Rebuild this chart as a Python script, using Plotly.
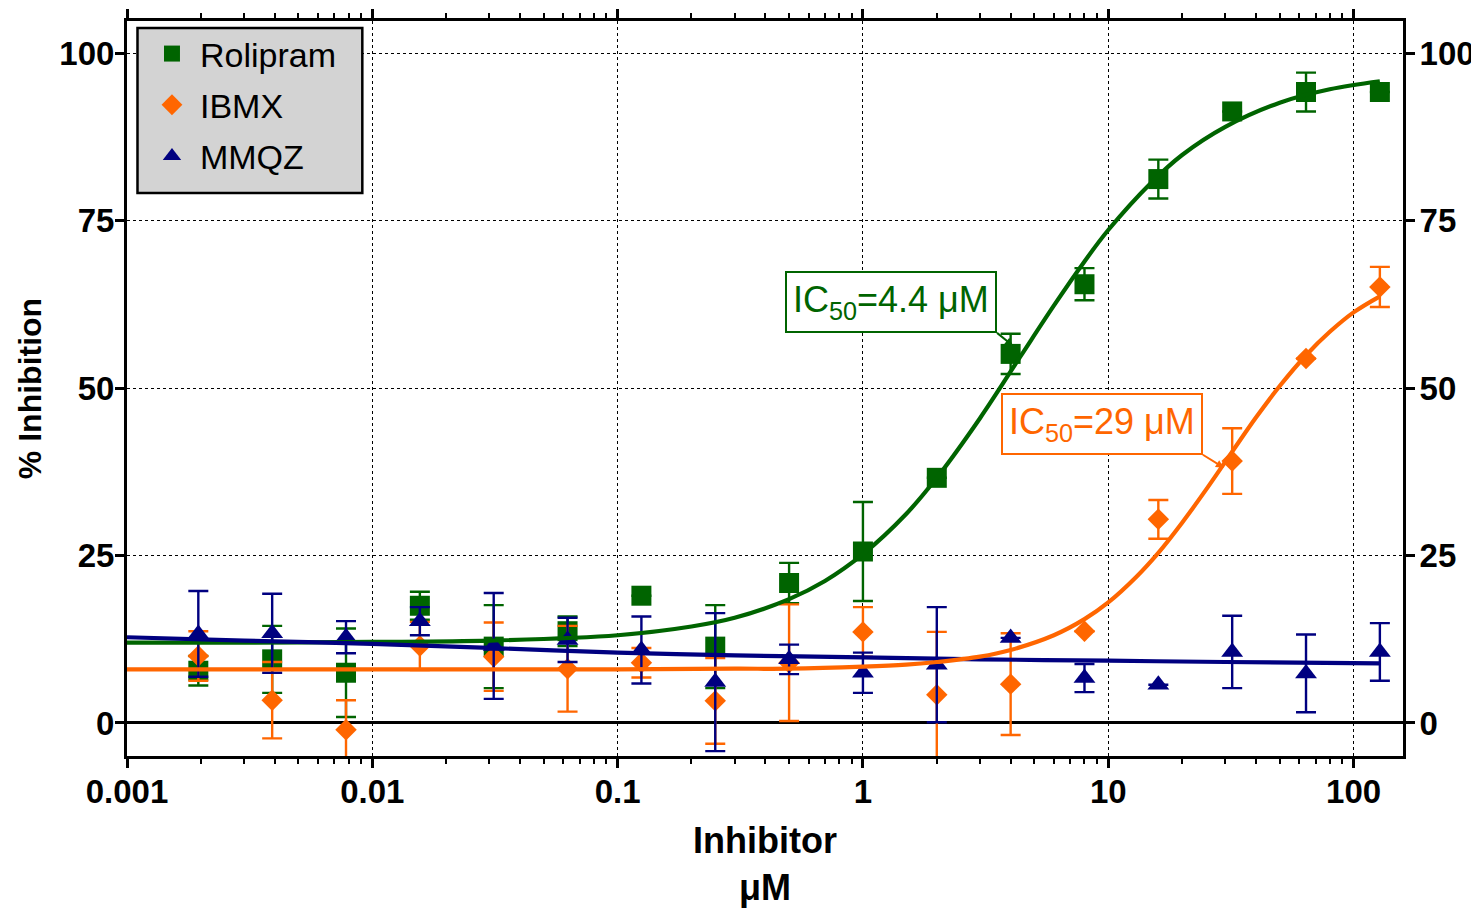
import math
import plotly.graph_objects as go

# ---------------- data ----------------
conc = [0.001953125, 0.00390625, 0.0078125, 0.015625, 0.03125, 0.0625, 0.125,
        0.25, 0.5, 1, 2, 4, 8, 16, 32, 64, 128]

rolipram_mean = [7.8, 9.5, 7.5, 17.5, 11.4, 13.7, 19.0, 11.4, 20.9, 25.6, 36.6,
                 55.1, 65.5, 81.2, 91.3, 94.2, 94.2]
rolipram_err = [2.2, 5.0, 6.6, 2.1, 6.2, 2.2, None, 6.2, 3.0, 7.4, None,
                3.0, 2.4, 2.9, None, 2.9, None]

ibmx_mean = [10.0, 3.4, -1.0, 11.5, 9.9, 8.1, 9.0, 3.3, 9.0, 13.6, 4.2,
             5.8, 13.7, 30.4, 39.1, 54.4, 65.1]
ibmx_err = [3.7, 5.7, 4.4, 3.6, 5.1, 6.4, 2.2, 6.4, 8.7, 3.7, 9.4,
            7.6, None, 2.9, 4.9, None, 3.0]

mmqz_mean = [13.3, 13.4, 12.8, 15.2, 11.5, 12.4, 10.9, 6.1, 9.5, 7.5, 8.7,
             12.7, 6.7, 5.7, 10.6, 7.4, 10.6]
mmqz_err = [6.4, 5.9, 2.4, 2.1, 7.9, 3.3, 5.0, 10.3, 2.2, 3.0, 8.6,
            None, 2.1, None, 5.4, 5.8, 4.3]

# fitted curves
rol_curve_x = [0.001, 0.003, 0.01, 0.03, 0.1, 0.2, 0.3, 0.5, 0.7, 1, 1.5, 2, 3,
               4.4, 6, 8, 10, 15, 20, 30, 50, 80, 128]
rol_curve_y = [12.0, 12.0, 12.1, 12.3, 13.1, 14.4, 15.7, 18.5, 21.2, 25.2, 31.2,
               36.6, 45.5, 54.8, 62.3, 68.9, 73.6, 80.7, 84.8, 89.0, 92.6, 94.6, 95.8]

ibmx_curve_x = [0.001, 0.01, 0.1, 0.3, 0.5, 1, 1.5, 2, 3, 4, 6, 8, 10, 13, 16, 20,
                25, 32, 40, 50, 64, 80, 100, 128]
ibmx_curve_y = [8.0, 8.0, 8.0, 8.1, 8.1, 8.4, 8.7, 9.1, 9.9, 10.9, 13.1, 15.5, 18.0,
                21.8, 25.4, 29.9, 34.8, 40.5, 45.6, 50.3, 54.9, 58.4, 61.3, 63.7]

mmqz_curve_x = [0.001, 0.003, 0.01, 0.03, 0.1, 0.3, 1, 3, 10, 30, 128]
mmqz_curve_y = [12.8, 12.3, 11.8, 11.2, 10.5, 10.1, 9.8, 9.5, 9.3, 9.1, 8.9]

series_names = ["Rolipram", "IBMX", "MMQZ"]
y_ticks = [0, 25, 50, 75, 100]
x_ticks = [0.001, 0.01, 0.1, 1, 10, 100]
x_tick_labels = ["0.001", "0.01", "0.1", "1", "10", "100"]

# IC50 labels and where their arrows point (data units)
ic50_labels = ["IC<sub>50</sub>=4.4 \u03bcM", "IC<sub>50</sub>=29 \u03bcM"]
ic50_arrow_x = [4.09, 29.6]
ic50_arrow_y = [56.3, 38.1]

# ---------------- styling ----------------
GREEN = "#006400"
ORANGE = "#FF6600"
NAVY = "#000080"
FONT = "Liberation Sans, Arial, sans-serif"

fig = go.Figure()


def err(vals, color):
    return dict(type="data", array=vals, visible=True, color=color,
                thickness=2.4, width=10)


# data points
fig.add_trace(go.Scatter(x=conc, y=rolipram_mean, mode="markers", name=series_names[0],
                         legendgroup="a",
                         marker=dict(symbol="square", size=20, color=GREEN),
                         error_y=err(rolipram_err, GREEN)))
fig.add_trace(go.Scatter(x=conc, y=ibmx_mean, mode="markers", name=series_names[1],
                         legendgroup="b",
                         marker=dict(symbol="diamond", size=16.5, color=ORANGE),
                         error_y=err(ibmx_err, ORANGE)))
fig.add_trace(go.Scatter(x=conc, y=mmqz_mean, mode="markers", name=series_names[2],
                         legendgroup="c",
                         marker=dict(symbol="triangle-up", size=19, color=NAVY),
                         error_y=err(mmqz_err, NAVY)))

# curves
fig.add_trace(go.Scatter(x=rol_curve_x, y=rol_curve_y, mode="lines", showlegend=False,
                         line=dict(color=GREEN, width=4.2, shape="spline"), hoverinfo="skip"))
fig.add_trace(go.Scatter(x=mmqz_curve_x, y=mmqz_curve_y, mode="lines", showlegend=False,
                         line=dict(color=NAVY, width=4.2, shape="spline"), hoverinfo="skip"))
fig.add_trace(go.Scatter(x=ibmx_curve_x, y=ibmx_curve_y, mode="lines", showlegend=False,
                         line=dict(color=ORANGE, width=4.2, shape="spline"), hoverinfo="skip"))

Y_RANGE = [-4.93, 104.8]

# the page body adds an 8 px offset, so the figure is 8 px smaller each way
fig.update_layout(
    width=1471, height=900,
    margin=dict(l=118.5, r=75.5, t=13, b=152, autoexpand=False),
    paper_bgcolor="white", plot_bgcolor="white",
    font=dict(family=FONT, color="black"),
    showlegend=True,
    legend=dict(x=0.0133, y=0.9946, xanchor="left", yanchor="top",
                bgcolor="rgba(0,0,0,0)", borderwidth=0,
                font=dict(size=34, family=FONT, color="black"),
                itemwidth=46, tracegroupgap=4),
    xaxis=dict(type="log", range=[-3, 2.2015], automargin=True,
               tickvals=x_ticks, ticktext=x_tick_labels,
               ticks="outside", ticklen=9, tickwidth=2.5, tickcolor="black",
               ticklabelstandoff=-5,
               tickfont=dict(size=33, family=FONT, color="black", weight="bold"),
               showline=True, linewidth=3, linecolor="black", mirror="ticks",
               showgrid=True, gridcolor="black", gridwidth=1, griddash="dot",
               minor=dict(dtick="D1", ticks="outside", ticklen=5, tickwidth=2,
                          tickcolor="black", showgrid=False),
               title=dict(text="Inhibitor<br>\u03bcM", standoff=30,
                          font=dict(size=36, family=FONT, color="black", weight="bold")),
               zeroline=False),
    yaxis=dict(range=Y_RANGE, tickvals=y_ticks, automargin=False,
               ticks="outside", ticklen=9, tickwidth=2.5, tickcolor="black",
               ticklabelstandoff=-6,
               tickfont=dict(size=33, family=FONT, color="black", weight="bold"),
               showline=True, linewidth=3, linecolor="black", mirror=False,
               showgrid=True, gridcolor="black", gridwidth=1, griddash="dot",
               zeroline=True, zerolinecolor="black", zerolinewidth=2.5,
               title=dict(text="% Inhibition", standoff=9,
                          font=dict(size=32, family=FONT, color="black", weight="bold"))),
    yaxis2=dict(range=Y_RANGE, tickvals=y_ticks, overlaying="y", side="right",
                automargin=False,
                ticks="outside", ticklen=9, tickwidth=2.5, tickcolor="black",
                ticklabelstandoff=-2,
                tickfont=dict(size=33, family=FONT, color="black", weight="bold"),
                showline=True, linewidth=3, linecolor="black",
                showgrid=False, zeroline=False),
)

# invisible helper to activate the right axis
fig.add_trace(go.Scatter(x=[None], y=[None], yaxis="y2", showlegend=False, hoverinfo="skip"))

# legend box
fig.add_shape(type="rect", xref="paper", yref="paper",
              x0=(137 - 126.5) / 1277, x1=(362 - 126.5) / 1277,
              y0=(756 - 193) / 735, y1=(756 - 28) / 735,
              fillcolor="#d3d3d3", line=dict(color="black", width=2.5), layer="above")

# IC50 annotations: box anchored at its lower-right corner, arrow to the curve
# (annotations on a log axis take log10 of the data value)
ic50_colors = [GREEN, ORANGE]
ic50_offsets = [(-16, -13), (-21, -13)]
for lab, xv, yv, col, (dx, dy) in zip(ic50_labels, ic50_arrow_x, ic50_arrow_y,
                                      ic50_colors, ic50_offsets):
    fig.add_annotation(x=math.log10(xv), y=yv, xref="x", yref="y", text=lab,
                       showarrow=True, ax=dx, ay=dy, xanchor="right", yanchor="bottom",
                       arrowhead=2, arrowsize=0.8, arrowwidth=2, arrowcolor=col,
                       standoff=0,
                       font=dict(size=36, family=FONT, color=col),
                       bgcolor="white", bordercolor=col, borderwidth=2, borderpad=6)

fig.write_html("out.html")
